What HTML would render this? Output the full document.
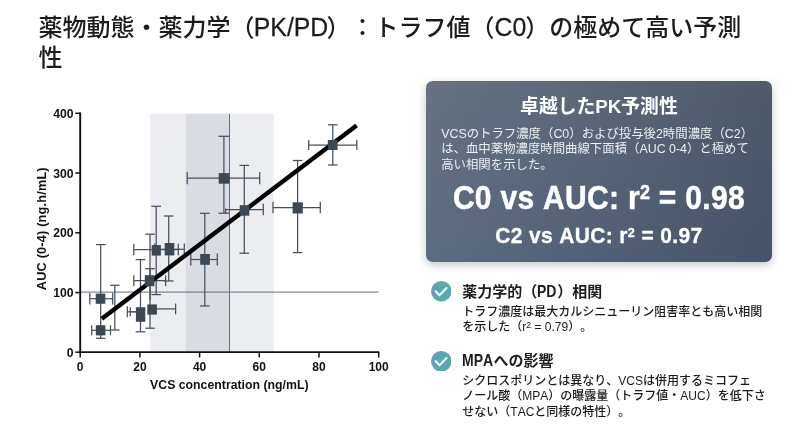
<!DOCTYPE html>
<html lang="ja">
<head>
<meta charset="utf-8">
<title>薬物動態・薬力学（PK/PD）</title>
<style>
html,body{margin:0;padding:0;}
body{width:800px;height:433px;overflow:hidden;background:#fff;position:relative;font-family:"Liberation Sans","Noto Sans CJK JP",sans-serif;color:#1f1f1f;text-spacing-trim:space-all;font-kerning:none;}
.title{position:absolute;left:38.5px;top:13.1px;width:715px;margin:0;font-size:24px;line-height:30px;font-weight:500;color:#1c1c1c;letter-spacing:0;}
.chart{position:absolute;left:0;top:0;}
.card{position:absolute;left:425.6px;top:80.6px;width:346.6px;height:181.9px;border-radius:6.5px;background:linear-gradient(180deg,rgba(120,120,120,.06) 0%,rgba(30,60,120,.09) 100%),linear-gradient(100deg,#667283 0%,#586476 50%,#4a5566 100%);box-shadow:0 3px 9px rgba(40,50,65,.27);color:#fff;}
.card h2{position:absolute;left:0;right:0;top:14.5px;margin:0;text-align:center;font-size:18.8px;line-height:24px;font-weight:700;}
.card p{position:absolute;left:15.6px;top:46.2px;color:#eceff3;width:320px;white-space:nowrap;margin:0;font-size:12.4px;line-height:15.5px;}
.card .big{position:absolute;left:0;right:0;top:99px;text-align:center;font-size:30px;line-height:36px;font-weight:700;white-space:nowrap;letter-spacing:0.3px;transform:scaleY(1.1);-webkit-text-stroke:0.45px #fff;}
.card .mid{position:absolute;left:0;right:0;top:142px;text-align:center;font-size:21px;line-height:26px;font-weight:700;white-space:nowrap;letter-spacing:0.35px;transform:scaleY(1.05);-webkit-text-stroke:0.3px #fff;}
sup{font-size:60%;vertical-align:baseline;position:relative;top:-0.48em;line-height:0;}
.item{position:absolute;left:462.3px;width:320px;}
.item h3{margin:0;font-size:15px;line-height:20px;font-weight:700;color:#1d1d1d;}
.item p{margin:0;white-space:nowrap;font-size:12px;line-height:15.5px;color:#1a1a1a;font-weight:500;}
.item sup{font-size:72%;top:-0.38em;}
.lt{display:inline-block;transform:scale(.935,1.14);transform-origin:0 80%;}
.tl{display:inline-block;transform:scale(1.035,1.1);transform-origin:50% 82%;-webkit-text-stroke:0.25px #1c1c1c;}
.ico{position:absolute;}
</style>
</head>
<body>
<h1 class="title">薬物動態・薬力学（<span class="tl">PK/PD</span>）：トラフ値（<span class="tl">C0</span>）の極めて高い予測性</h1>
<svg class="chart" width="800" height="433" viewBox="0 0 800 433">
<rect x="150.3" y="113.7" width="123.2" height="238.5" fill="#ebedf1"/>
<rect x="185.8" y="113.7" width="43.7" height="238.5" fill="#d9dce3"/>
<line x1="229.5" y1="113.7" x2="229.5" y2="352.2" stroke="#5f6975" stroke-width="0.95" />
<line x1="80.0" y1="292.1" x2="378.5" y2="292.1" stroke="#5f6975" stroke-width="0.95" />
<line x1="100.7" y1="244.6" x2="100.7" y2="338.3" stroke="#47515d" stroke-width="1.25" />
<line x1="95.9" y1="244.6" x2="105.5" y2="244.6" stroke="#47515d" stroke-width="1.25" />
<line x1="95.9" y1="338.3" x2="105.5" y2="338.3" stroke="#47515d" stroke-width="1.25" />
<line x1="91.7" y1="330.3" x2="110.5" y2="330.3" stroke="#47515d" stroke-width="1.25" />
<line x1="91.7" y1="325.3" x2="91.7" y2="335.3" stroke="#47515d" stroke-width="1.25" />
<line x1="110.5" y1="325.3" x2="110.5" y2="335.3" stroke="#47515d" stroke-width="1.25" />
<line x1="89.8" y1="298.7" x2="112.7" y2="298.7" stroke="#47515d" stroke-width="1.25" />
<line x1="89.8" y1="292.9" x2="89.8" y2="304.4" stroke="#47515d" stroke-width="1.25" />
<line x1="112.7" y1="292.9" x2="112.7" y2="304.4" stroke="#47515d" stroke-width="1.25" />
<line x1="114.8" y1="285.3" x2="114.8" y2="330.0" stroke="#47515d" stroke-width="1.25" />
<line x1="110.0" y1="285.3" x2="119.6" y2="285.3" stroke="#47515d" stroke-width="1.25" />
<line x1="110.0" y1="330.0" x2="119.6" y2="330.0" stroke="#47515d" stroke-width="1.25" />
<line x1="140.5" y1="259.6" x2="140.5" y2="331.8" stroke="#47515d" stroke-width="1.25" />
<line x1="135.7" y1="259.6" x2="145.3" y2="259.6" stroke="#47515d" stroke-width="1.25" />
<line x1="135.7" y1="331.8" x2="145.3" y2="331.8" stroke="#47515d" stroke-width="1.25" />
<line x1="127.3" y1="311.8" x2="145.0" y2="311.8" stroke="#47515d" stroke-width="1.25" />
<line x1="127.3" y1="306.3" x2="127.3" y2="317.3" stroke="#47515d" stroke-width="1.25" />
<line x1="130.3" y1="311.8" x2="145.0" y2="311.8" stroke="#47515d" stroke-width="1.25" />
<line x1="130.3" y1="307.3" x2="130.3" y2="316.3" stroke="#47515d" stroke-width="1.25" />
<line x1="150.0" y1="308.9" x2="175.6" y2="308.9" stroke="#47515d" stroke-width="1.25" />
<line x1="175.6" y1="303.5" x2="175.6" y2="314.3" stroke="#47515d" stroke-width="1.25" />
<line x1="150.0" y1="268.7" x2="150.0" y2="300.0" stroke="#47515d" stroke-width="1.25" />
<line x1="145.2" y1="268.7" x2="154.8" y2="268.7" stroke="#47515d" stroke-width="1.25" />
<line x1="150.0" y1="234.2" x2="150.0" y2="328.2" stroke="#47515d" stroke-width="1.25" />
<line x1="145.2" y1="234.2" x2="154.8" y2="234.2" stroke="#47515d" stroke-width="1.25" />
<line x1="145.2" y1="328.2" x2="154.8" y2="328.2" stroke="#47515d" stroke-width="1.25" />
<line x1="133.8" y1="280.7" x2="165.6" y2="280.7" stroke="#47515d" stroke-width="1.25" />
<line x1="133.8" y1="275.2" x2="133.8" y2="286.2" stroke="#47515d" stroke-width="1.25" />
<line x1="165.6" y1="275.2" x2="165.6" y2="286.2" stroke="#47515d" stroke-width="1.25" />
<line x1="156.2" y1="206.3" x2="156.2" y2="294.6" stroke="#47515d" stroke-width="1.25" />
<line x1="151.4" y1="206.3" x2="161.0" y2="206.3" stroke="#47515d" stroke-width="1.25" />
<line x1="151.4" y1="294.6" x2="161.0" y2="294.6" stroke="#47515d" stroke-width="1.25" />
<line x1="133.8" y1="249.5" x2="178.3" y2="249.5" stroke="#47515d" stroke-width="1.25" />
<line x1="133.8" y1="243.8" x2="133.8" y2="255.2" stroke="#47515d" stroke-width="1.25" />
<line x1="178.3" y1="243.8" x2="178.3" y2="255.2" stroke="#47515d" stroke-width="1.25" />
<line x1="168.7" y1="216.0" x2="168.7" y2="281.0" stroke="#47515d" stroke-width="1.25" />
<line x1="163.9" y1="216.0" x2="173.5" y2="216.0" stroke="#47515d" stroke-width="1.25" />
<line x1="163.9" y1="281.0" x2="173.5" y2="281.0" stroke="#47515d" stroke-width="1.25" />
<line x1="154.7" y1="249.3" x2="184.3" y2="249.3" stroke="#47515d" stroke-width="1.25" />
<line x1="154.7" y1="243.6" x2="154.7" y2="255.1" stroke="#47515d" stroke-width="1.25" />
<line x1="184.3" y1="243.6" x2="184.3" y2="255.1" stroke="#47515d" stroke-width="1.25" />
<line x1="204.8" y1="213.3" x2="204.8" y2="306.0" stroke="#47515d" stroke-width="1.25" />
<line x1="200.0" y1="213.3" x2="209.6" y2="213.3" stroke="#47515d" stroke-width="1.25" />
<line x1="200.0" y1="306.0" x2="209.6" y2="306.0" stroke="#47515d" stroke-width="1.25" />
<line x1="190.8" y1="259.5" x2="217.3" y2="259.5" stroke="#47515d" stroke-width="1.25" />
<line x1="190.8" y1="253.5" x2="190.8" y2="265.5" stroke="#47515d" stroke-width="1.25" />
<line x1="217.3" y1="253.5" x2="217.3" y2="265.5" stroke="#47515d" stroke-width="1.25" />
<line x1="223.9" y1="136.3" x2="223.9" y2="213.2" stroke="#47515d" stroke-width="1.25" />
<line x1="218.5" y1="136.3" x2="229.3" y2="136.3" stroke="#47515d" stroke-width="1.25" />
<line x1="218.5" y1="213.2" x2="229.3" y2="213.2" stroke="#47515d" stroke-width="1.25" />
<line x1="187.2" y1="178.2" x2="259.7" y2="178.2" stroke="#47515d" stroke-width="1.25" />
<line x1="187.2" y1="172.1" x2="187.2" y2="184.3" stroke="#47515d" stroke-width="1.25" />
<line x1="259.7" y1="172.1" x2="259.7" y2="184.3" stroke="#47515d" stroke-width="1.25" />
<line x1="244.3" y1="165.4" x2="244.3" y2="253.2" stroke="#47515d" stroke-width="1.25" />
<line x1="239.5" y1="165.4" x2="249.1" y2="165.4" stroke="#47515d" stroke-width="1.25" />
<line x1="239.5" y1="253.2" x2="249.1" y2="253.2" stroke="#47515d" stroke-width="1.25" />
<line x1="225.6" y1="209.6" x2="263.3" y2="209.6" stroke="#47515d" stroke-width="1.25" />
<line x1="263.3" y1="203.8" x2="263.3" y2="215.3" stroke="#47515d" stroke-width="1.25" />
<line x1="225.6" y1="208.5" x2="225.6" y2="214.0" stroke="#47515d" stroke-width="1.25" />
<line x1="297.6" y1="160.5" x2="297.6" y2="252.6" stroke="#47515d" stroke-width="1.25" />
<line x1="292.8" y1="160.5" x2="302.4" y2="160.5" stroke="#47515d" stroke-width="1.25" />
<line x1="292.8" y1="252.6" x2="302.4" y2="252.6" stroke="#47515d" stroke-width="1.25" />
<line x1="273.0" y1="207.6" x2="320.3" y2="207.6" stroke="#47515d" stroke-width="1.25" />
<line x1="273.0" y1="201.8" x2="273.0" y2="213.3" stroke="#47515d" stroke-width="1.25" />
<line x1="320.3" y1="201.8" x2="320.3" y2="213.3" stroke="#47515d" stroke-width="1.25" />
<line x1="332.8" y1="124.8" x2="332.8" y2="165.0" stroke="#47515d" stroke-width="1.25" />
<line x1="328.0" y1="124.8" x2="337.6" y2="124.8" stroke="#47515d" stroke-width="1.25" />
<line x1="328.0" y1="165.0" x2="337.6" y2="165.0" stroke="#47515d" stroke-width="1.25" />
<line x1="308.7" y1="145.0" x2="356.8" y2="145.0" stroke="#47515d" stroke-width="1.25" />
<line x1="308.7" y1="139.9" x2="308.7" y2="150.1" stroke="#47515d" stroke-width="1.25" />
<line x1="356.8" y1="139.9" x2="356.8" y2="150.1" stroke="#47515d" stroke-width="1.25" />
<line x1="101.8" y1="318.8" x2="356.6" y2="125.4" stroke="#000" stroke-width="4.4" />
<rect x="95.8" y="325.2" width="9.6" height="10.2" fill="#3e4854"/>
<rect x="95.7" y="293.6" width="9.6" height="10.2" fill="#3e4854"/>
<rect x="135.9" y="307.2" width="9.4" height="14.6" fill="#3e4854"/>
<rect x="147.3" y="304.4" width="9.6" height="10.2" fill="#3e4854"/>
<rect x="144.8" y="275.2" width="9.6" height="11" fill="#3e4854"/>
<rect x="151.7" y="245.1" width="9.2" height="10.5" fill="#3e4854"/>
<rect x="164.7" y="243.0" width="9.6" height="12.4" fill="#3e4854"/>
<rect x="200.2" y="254.0" width="9.7" height="10.8" fill="#3e4854"/>
<rect x="218.7" y="173.1" width="10.6" height="10.6" fill="#3e4854"/>
<rect x="239.7" y="205.2" width="9.6" height="10.5" fill="#3e4854"/>
<rect x="292.6" y="202.3" width="10.2" height="11.2" fill="#3e4854"/>
<rect x="327.8" y="140.0" width="9.8" height="10" fill="#3e4854"/>
<line x1="80.2" y1="112.4" x2="80.2" y2="353.1" stroke="#111" stroke-width="1.9" />
<line x1="79.3" y1="352.2" x2="379.3" y2="352.2" stroke="#111" stroke-width="1.8" />
<line x1="75.3" y1="352.2" x2="80.2" y2="352.2" stroke="#111" stroke-width="1.5" />
<line x1="75.3" y1="292.6" x2="80.2" y2="292.6" stroke="#111" stroke-width="1.5" />
<line x1="75.3" y1="232.8" x2="80.2" y2="232.8" stroke="#111" stroke-width="1.5" />
<line x1="75.3" y1="173.0" x2="80.2" y2="173.0" stroke="#111" stroke-width="1.5" />
<line x1="75.3" y1="113.3" x2="80.2" y2="113.3" stroke="#111" stroke-width="1.5" />
<line x1="80.2" y1="352.2" x2="80.2" y2="357.4" stroke="#111" stroke-width="1.5" />
<line x1="139.9" y1="352.2" x2="139.9" y2="357.4" stroke="#111" stroke-width="1.5" />
<line x1="199.6" y1="352.2" x2="199.6" y2="357.4" stroke="#111" stroke-width="1.5" />
<line x1="259.3" y1="352.2" x2="259.3" y2="357.4" stroke="#111" stroke-width="1.5" />
<line x1="319.0" y1="352.2" x2="319.0" y2="357.4" stroke="#111" stroke-width="1.5" />
<line x1="378.7" y1="352.2" x2="378.7" y2="357.4" stroke="#111" stroke-width="1.5" />
<g font-family="Liberation Sans, Arial, sans-serif" font-weight="bold" font-size="12" fill="#111">
<text x="73.6" y="356.8" text-anchor="end" font-size="12.2">0</text>
<text x="73.6" y="297.1" text-anchor="end" font-size="12.2">100</text>
<text x="73.6" y="237.3" text-anchor="end" font-size="12.2">200</text>
<text x="73.6" y="177.5" text-anchor="end" font-size="12.2">300</text>
<text x="73.6" y="117.8" text-anchor="end" font-size="12.2">400</text>
<text x="80.2" y="370.6" text-anchor="middle">0</text>
<text x="139.9" y="370.6" text-anchor="middle">20</text>
<text x="199.6" y="370.6" text-anchor="middle">40</text>
<text x="259.3" y="370.6" text-anchor="middle">60</text>
<text x="319.0" y="370.6" text-anchor="middle">80</text>
<text x="378.7" y="370.6" text-anchor="middle">100</text>
<text x="229.3" y="388.8" text-anchor="middle" font-size="12.3">VCS concentration (ng/mL)</text>
<text transform="translate(46.1,228.7) rotate(-90)" text-anchor="middle" font-size="12.7" letter-spacing="0.2">AUC (0-4) (ng.h/mL)</text>
</g>
</svg>
<div class="card">
<h2>卓越したPK予測性</h2>
<p>VCSのトラフ濃度（C0）および投与後2時間濃度（C2）<br>は、血中薬物濃度時間曲線下面積（AUC 0-4）と極めて<br>高い相関を示した。</p>
<div class="big">C0 vs AUC: r<sup>2</sup> = 0.98</div>
<div class="mid">C2 vs AUC: r<sup>2</sup> = 0.97</div>
</div>
<svg class="ico" style="left:430.8px;top:281.2px" width="20.6" height="20.6" viewBox="0 0 20.6 20.6"><circle cx="10.3" cy="10.3" r="10.3" fill="#5ca5b1"/><path d="M4.6 10.2 L8.6 14.3 L15.5 7.1" fill="none" stroke="#e8fdff" stroke-width="2.1" stroke-linecap="round" stroke-linejoin="round"/></svg>
<div class="item" style="top:282.3px">
<h3>薬力学的（<span class="lt" style="margin-right:-1px">PD</span>）相関</h3>
<p style="margin-top:2.5px">トラフ濃度は最大カルシニューリン阻害率とも高い相関<br>を示した（r<sup>2</sup> = 0.79）。</p>
</div>
<svg class="ico" style="left:430.8px;top:350.6px" width="20.6" height="20.6" viewBox="0 0 20.6 20.6"><circle cx="10.3" cy="10.3" r="10.3" fill="#5ca5b1"/><path d="M4.6 10.2 L8.6 14.3 L15.5 7.1" fill="none" stroke="#e8fdff" stroke-width="2.1" stroke-linecap="round" stroke-linejoin="round"/></svg>
<div class="item" style="top:351.3px">
<h3><span class="lt" style="margin-right:-2.1px">MPA</span>への影響</h3>
<p style="margin-top:2.5px">シクロスポリンとは異なり、VCSは併用するミコフェ<br>ノール酸（MPA）の曝露量（トラフ値・AUC）を低下さ<br>せない（TACと同様の特性）。</p>
</div>
</body>
</html>
